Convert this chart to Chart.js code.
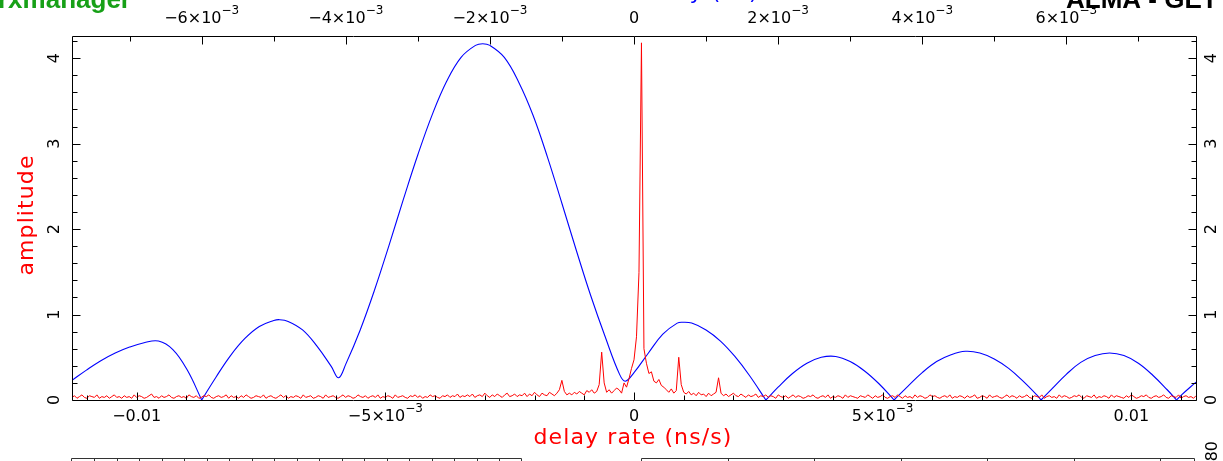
<!DOCTYPE html>
<html>
<head>
<meta charset="utf-8">
<script src="https://cdn.jsdelivr.net/npm/chart.js@4.4.1/dist/chart.umd.min.js"></script>
<style>
  html, body { margin: 0; padding: 0; background: #fff; }
  #wrap { width: 1223px; height: 461px; position: relative; }
</style>
</head>
<body>
<div id="wrap"><canvas id="c"></canvas></div>
<script>
// red trace: amplitude against delay rate (bottom axis), one value per rate step
const rateStart = -0.0113;
const rateStep = 0.00005;
const redAmp = [
  0.03,0.05,0.02,0.04,0.06,0.03,0.02,0.05,0.04,0.03,0.06,0.02,0.04,0.03,0.05,0.02,0.04,0.06,0.03,0.04,
  0.02,0.05,0.03,0.04,0.02,0.06,0.03,0.05,0.04,0.02,0.03,0.05,0.07,0.03,0.04,0.02,0.05,0.03,0.04,0.06,
  0.03,0.02,0.04,0.05,0.03,0.04,0.02,0.06,0.04,0.03,0.05,0.02,0.03,0.05,0.04,0.06,0.03,0.02,0.04,0.05,
  0.03,0.04,0.06,0.02,0.05,0.03,0.04,0.02,0.05,0.03,0.06,0.04,0.02,0.03,0.05,0.04,0.03,0.06,0.02,0.04,
  0.05,0.03,0.02,0.04,0.06,0.03,0.05,0.02,0.04,0.03,0.05,0.04,0.02,0.06,0.03,0.04,0.05,0.02,0.03,0.05,
  0.04,0.02,0.06,0.03,0.04,0.05,0.03,0.02,0.04,0.06,0.03,0.05,0.04,0.02,0.03,0.06,0.04,0.03,0.05,0.02,
  0.04,0.05,0.03,0.06,0.02,0.04,0.03,0.05,0.04,0.02,0.06,0.03,0.04,0.05,0.03,0.02,0.05,0.04,0.06,0.03,
  0.05,0.02,0.04,0.03,0.06,0.04,0.05,0.03,0.02,0.05,0.04,0.06,0.03,0.05,0.04,0.07,0.03,0.05,0.04,0.06,
  0.04,0.07,0.03,0.05,0.06,0.04,0.08,0.05,0.03,0.06,0.04,0.07,0.05,0.03,0.06,0.08,0.04,0.05,0.07,0.04,
  0.06,0.05,0.08,0.04,0.07,0.05,0.09,0.06,0.04,0.08,0.06,0.05,0.09,0.07,0.05,0.08,0.12,0.23,0.10,0.06,
  0.08,0.06,0.09,0.07,0.10,0.08,0.06,0.11,0.09,0.12,0.08,0.10,0.18,0.56,0.20,0.09,0.12,0.08,0.11,0.14,
  0.12,0.08,0.20,0.15,0.25,0.37,0.47,0.74,1.49,4.18,0.60,0.43,0.31,0.33,0.22,0.20,0.24,0.17,0.15,0.12,
  0.09,0.13,0.08,0.11,0.50,0.18,0.09,0.07,0.10,0.06,0.08,0.05,0.09,0.06,0.07,0.04,0.08,0.05,0.07,0.09,
  0.26,0.08,0.05,0.07,0.04,0.06,0.08,0.05,0.04,0.07,0.05,0.03,0.06,0.04,0.05,0.07,0.03,0.05,0.04,0.06,
  0.03,0.05,0.04,0.02,0.06,0.04,0.03,0.05,0.02,0.04,0.06,0.03,0.05,0.04,0.02,0.03,0.05,0.04,0.06,0.03,
  0.02,0.04,0.05,0.03,0.06,0.02,0.04,0.03,0.05,0.04,0.02,0.06,0.03,0.05,0.04,0.03,0.02,0.05,0.04,0.03,
  0.06,0.04,0.02,0.05,0.03,0.04,0.06,0.03,0.02,0.04,0.05,0.03,0.06,0.04,0.02,0.05,0.03,0.04,0.02,0.06,
  0.03,0.05,0.04,0.02,0.03,0.06,0.04,0.05,0.03,0.02,0.04,0.05,0.03,0.06,0.02,0.04,0.03,0.05,0.04,0.02,
  0.05,0.03,0.04,0.06,0.02,0.03,0.05,0.04,0.02,0.06,0.03,0.04,0.05,0.03,0.02,0.04,0.06,0.03,0.05,0.04,
  0.02,0.05,0.03,0.04,0.06,0.03,0.02,0.05,0.04,0.03,0.06,0.02,0.04,0.05,0.03,0.04,0.02,0.06,0.03,0.05,
  0.04,0.02,0.03,0.05,0.04,0.06,0.03,0.02,0.05,0.04,0.03,0.06,0.02,0.04,0.03,0.05,0.04,0.02,0.06,0.03,
  0.05,0.04,0.03,0.02,0.05,0.03,0.06,0.04,0.02,0.03,0.05,0.04,0.06,0.03,0.02,0.04,0.05,0.03,0.04,0.06,
  0.03,0.02,0.05,0.04,0.03,0.06,0.02,0.04,0.05,0.03,0.04,0.02,0.05
];

// blue trace: amplitude against delay (top axis)
const blueDelay = [
  -0.0078,-0.0076,-0.0074,-0.0072,-0.0070,-0.0068,-0.0066,-0.0064,-0.0062,-0.0060,
  -0.0058,-0.0056,-0.0054,-0.0052,-0.0050,-0.00492,-0.0048,-0.0046,-0.0044,-0.0042,-0.0041,
  -0.0040,-0.0038,-0.0036,-0.0034,-0.0032,-0.0030,-0.0028,-0.0026,-0.0024,-0.0022,-0.0021,
  -0.0020,-0.0018,-0.0016,-0.0014,-0.0012,-0.0010,-0.0008,-0.0006,-0.0004,-0.0002,-0.00012,
  0.0000,0.0002,0.0004,0.0006,0.00068,0.0008,0.0010,0.0012,0.0014,0.0016,0.00183,
  0.0020,0.0022,0.0024,0.0026,0.0028,0.0030,0.0032,0.0034,0.00361,
  0.0038,0.0040,0.0042,0.0044,0.0046,0.0048,0.0050,0.0052,0.0054,0.0056,0.00565,
  0.0058,0.0060,0.0062,0.0064,0.0066,0.0068,0.0070,0.0072,0.0074,0.00753,0.0076,0.0078
];
const blueAmp = [
  0.23,0.35,0.46,0.55,0.62,0.67,0.69,0.59,0.35,0.00,
  0.27,0.52,0.72,0.86,0.93,0.94,0.92,0.82,0.63,0.39,0.26,
  0.42,0.82,1.29,1.81,2.35,2.87,3.34,3.73,4.01,4.15,4.17,
  4.15,4.01,3.72,3.33,2.84,2.30,1.75,1.22,0.74,0.30,0.22,
  0.32,0.55,0.77,0.90,0.91,0.90,0.82,0.69,0.51,0.29,0.00,
  0.15,0.31,0.43,0.50,0.51,0.45,0.34,0.19,0.00,
  0.16,0.32,0.45,0.53,0.57,0.55,0.48,0.37,0.22,0.05,0.00,
  0.13,0.30,0.44,0.52,0.55,0.52,0.43,0.29,0.12,0.00,0.06,0.21
];

// tick labels (base text + exponent)
const rateTicks = [-0.01, -0.005, 0, 0.005, 0.01];
const rateTickLabels = ['−0.01', '−5×10', '0', '5×10', '0.01'];
const rateTickExp = ['', '−3', '', '−3', ''];
const delayTicks = [-0.006, -0.004, -0.002, 0, 0.002, 0.004, 0.006];
const delayTickLabels = ['−6×10', '−4×10', '−2×10', '0', '2×10', '4×10', '6×10'];
const delayTickExp = ['−3', '−3', '−3', '', '−3', '−3', '−3'];
const ampTicks = [0, 1, 2, 3, 4];
const ampTickLabels = ['0', '1', '2', '3', '4'];

const redPoints = redAmp.map((v, i) => ({ x: rateStart + i * rateStep, y: v }));

// split the blue trace into lobes at its zeros so each zero stays a sharp V
const blueLobes = [];
let lobe = [];
blueDelay.forEach((d, i) => {
    lobe.push({ x: d, y: blueAmp[i] });
    if (blueAmp[i] === 0 && lobe.length > 1) {
        blueLobes.push(lobe);
        lobe = [{ x: d, y: 0 }];
    }
});
if (lobe.length > 1) blueLobes.push(lobe);

const FONT = '"DejaVu Sans", sans-serif';

function supLabel(ctx, base, sup, cx, by) {
    ctx.font = '16px ' + FONT;
    const wb = ctx.measureText(base).width;
    ctx.font = '12px ' + FONT;
    const ws = sup ? ctx.measureText(sup).width : 0;
    const x0 = cx - (wb + ws) / 2;
    ctx.textAlign = 'left';
    ctx.font = '16px ' + FONT;
    ctx.fillText(base, x0, by);
    if (sup) {
        ctx.font = '12px ' + FONT;
        ctx.fillText(sup, x0 + wb, by - 9);
    }
}

function rotText(ctx, txt, x, y, align) {
    ctx.save();
    ctx.translate(x, y);
    ctx.rotate(-Math.PI / 2);
    ctx.textAlign = align;
    ctx.fillText(txt, 0, 0);
    ctx.restore();
}

const framePlugin = {
    id: 'frame',
    afterDraw(chart) {
        const ctx = chart.ctx;
        const a = chart.chartArea;
        const xs = chart.scales.x, xt = chart.scales.x2, ys = chart.scales.y;
        const L = a.left + 0.5, R = a.right + 0.5, T = a.top + 0.5, B = a.bottom + 0.5;
        ctx.save();
        ctx.strokeStyle = '#000';
        ctx.lineWidth = 1;
        ctx.beginPath();
        ctx.rect(L, T, R - L, B - T);

        // bottom ticks every 0.001, major every 0.005
        for (let k = -11; k <= 11; k++) {
            const px = Math.round(xs.getPixelForValue(k / 1000)) + 0.5;
            const len = (k % 5 === 0) ? 8 : 5;
            ctx.moveTo(px, B); ctx.lineTo(px, B - len);
        }
        // top ticks every 0.001, major every 0.002
        for (let k = -7; k <= 7; k++) {
            const px = Math.round(xt.getPixelForValue(k / 1000)) + 0.5;
            const len = (k % 2 === 0) ? 8 : 5;
            ctx.moveTo(px, T); ctx.lineTo(px, T + len);
        }
        // left / right ticks every 0.2, major every 1
        for (let k = 0; k <= 21; k++) {
            const py = Math.round(ys.getPixelForValue(k / 5)) + 0.5;
            const len = (k % 5 === 0) ? 8 : 5;
            ctx.moveTo(L, py); ctx.lineTo(L + len, py);
            ctx.moveTo(R, py); ctx.lineTo(R - len, py);
        }
        ctx.stroke();

        // tick labels
        ctx.fillStyle = '#000';
        ctx.textBaseline = 'alphabetic';
        rateTicks.forEach((v, i) => supLabel(ctx, rateTickLabels[i], rateTickExp[i], xs.getPixelForValue(v), 421));
        delayTicks.forEach((v, i) => supLabel(ctx, delayTickLabels[i], delayTickExp[i], xt.getPixelForValue(v), 23));
        ctx.font = '16px ' + FONT;
        ampTicks.forEach((v, i) => {
            const py = ys.getPixelForValue(v);
            rotText(ctx, ampTickLabels[i], 59, py, 'center');
            rotText(ctx, ampTickLabels[i], 1216, py, 'center');
        });

        // axis titles
        ctx.fillStyle = '#ff0000';
        ctx.font = '22px ' + FONT;
        ctx.letterSpacing = '1.1px';
        ctx.textAlign = 'center';
        ctx.fillText('delay rate (ns/s)', 633, 444);
        rotText(ctx, 'amplitude', 33, 215, 'center');

        // blue top title, cut off by the top edge
        ctx.fillStyle = '#0000ff';
        ctx.textAlign = 'left';
        ctx.fillText('delay (ns)', 638, -1);
        ctx.letterSpacing = '0px';

        // header texts, cut off by the top edge
        ctx.font = 'bold 26px "Liberation Sans", Arial, sans-serif';
        ctx.fillStyle = '#17a017';
        ctx.fillText('rxmanager', -2, 8);
        ctx.fillStyle = '#000';
        ctx.fillText('ALMA - GET', 1066, 8);

        // top edges of the panels below
        ctx.strokeStyle = '#333';
        ctx.beginPath();
        ctx.moveTo(71.5, 461); ctx.lineTo(71.5, 458.5); ctx.lineTo(521.5, 458.5); ctx.lineTo(521.5, 461);
        for (let k = 1; k < 20; k++) {
            const px = Math.round(71.5 + k * 22.5) + 0.5;
            ctx.moveTo(px, 458.5); ctx.lineTo(px, 461);
        }
        ctx.moveTo(641.5, 461); ctx.lineTo(641.5, 458.5); ctx.lineTo(1194.5, 458.5); ctx.lineTo(1194.5, 461);
        for (let k = 1; k < 7; k++) {
            const px = Math.round(641.5 + k * 86.4) + 0.5;
            ctx.moveTo(px, 458.5); ctx.lineTo(px, 461);
        }
        ctx.stroke();
        ctx.fillStyle = '#000';
        ctx.font = '16px ' + FONT;
        rotText(ctx, '80', 1217, 441, 'right');
        ctx.restore();
    }
};

const datasets = [{
    label: 'amplitude vs delay rate',
    data: redPoints,
    xAxisID: 'x',
    yAxisID: 'y',
    borderColor: '#ff0000',
    borderWidth: 1,
    pointRadius: 0,
    tension: 0,
    order: 1
}];
blueLobes.forEach((pts, i) => {
    datasets.push({
        label: 'amplitude vs delay ' + i,
        data: pts,
        xAxisID: 'x2',
        yAxisID: 'y',
        borderColor: '#0000ff',
        borderWidth: 1.1,
        pointRadius: 0,
        tension: 0.4,
        order: 2
    });
});

new Chart(document.getElementById('c'), {
    type: 'line',
    data: { datasets: datasets },
    options: {
        responsive: true,
        maintainAspectRatio: false,
        animation: false,
        devicePixelRatio: 1,
        layout: { padding: { left: 72, right: 27, top: 36, bottom: 61 } },
        plugins: { legend: { display: false }, tooltip: { enabled: false } },
        scales: {
            x: { type: 'linear', display: false, min: -0.0113, max: 0.0113 },
            x2: { type: 'linear', position: 'top', display: false, min: -0.0078, max: 0.0078 },
            y: { type: 'linear', display: false, min: 0, max: 4.26 }
        }
    },
    plugins: [framePlugin]
});
</script>
</body>
</html>
